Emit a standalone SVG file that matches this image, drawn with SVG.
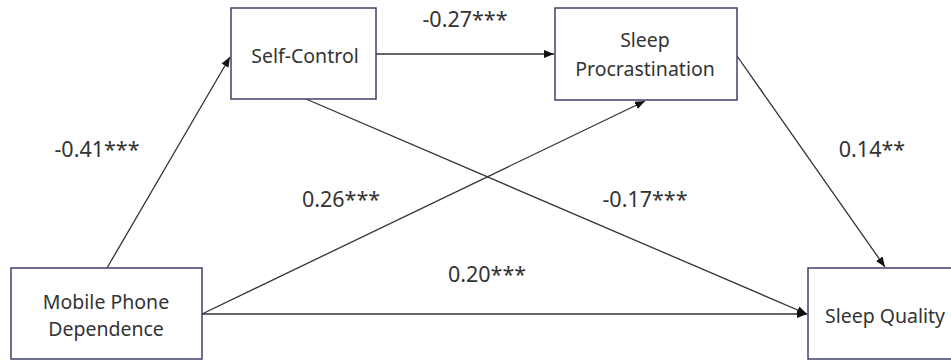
<svg xmlns="http://www.w3.org/2000/svg" width="951" height="361" viewBox="0 0 951 361">
<style>
.box{fill:#fff;stroke:#3d4068;stroke-width:1.5}
.nt{font-family:"Noto Sans","Open Sans",sans-serif;font-size:19.5px;fill:#333;text-anchor:middle}
.lb{font-family:"Noto Sans","Open Sans",sans-serif;font-size:21.5px;fill:#333;text-anchor:middle}
.ln{stroke:#333;stroke-width:1.3;fill:none;marker-end:url(#ah)}
</style>
<defs>
<marker id="ah" viewBox="0 0 10 10" refX="10" refY="5" markerWidth="10" markerHeight="10" markerUnits="userSpaceOnUse" orient="auto">
<path d="M0,1 L10,5 L0,9 Z" fill="#111"/>
</marker>
</defs>
<rect width="951" height="361" fill="#fff"/>
<g id="connectors">
<line class="ln" x1="107" y1="268" x2="230" y2="57"/>
<line class="ln" x1="376" y1="54" x2="554" y2="54"/>
<line class="ln" x1="202" y1="314" x2="645" y2="101"/>
<line class="ln" x1="306" y1="99" x2="807" y2="314"/>
<line class="ln" x1="202" y1="314" x2="807" y2="314"/>
<line class="ln" x1="737" y1="56" x2="885" y2="267"/>
</g>
<g id="labels">
<text class="lb" x="97" y="157">-0.41***</text>
<text class="lb" x="465" y="27">-0.27***</text>
<text class="lb" x="341" y="207">0.26***</text>
<text class="lb" x="645" y="207">-0.17***</text>
<text class="lb" x="487" y="282">0.20***</text>
<text class="lb" x="872" y="157">0.14**</text>
</g>
<g id="mobile">
<rect class="box" x="11" y="268" width="191" height="91"/>
<text class="nt" x="106" y="309">Mobile Phone</text>
<text class="nt" x="106" y="336">Dependence</text>
</g>
<g id="selfcontrol">
<rect class="box" x="231" y="8" width="145" height="91"/>
<text class="nt" x="305" y="63">Self-Control</text>
</g>
<g id="procrastination">
<rect class="box" x="555" y="8" width="182" height="92"/>
<text class="nt" x="645" y="47">Sleep</text>
<text class="nt" x="645" y="76">Procrastination</text>
</g>
<g id="quality">
<rect class="box" x="808" y="268" width="150" height="91"/>
<text class="nt" x="885" y="323">Sleep Quality</text>
</g>
</svg>
